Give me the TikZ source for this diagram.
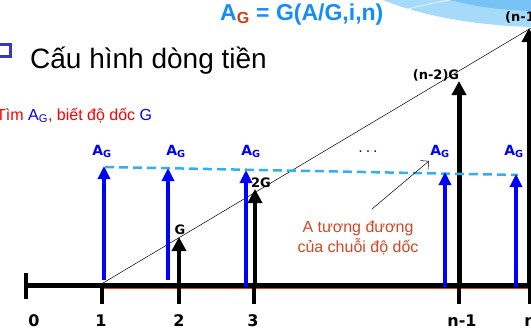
\documentclass[tikz,border=0pt]{standalone}
\usepackage{fontspec}
\setmainfont{Liberation Sans}
\newfontfamily\vfont{DejaVu Sans}
\usetikzlibrary{arrows.meta}
\definecolor{titleblue}{RGB}{20,140,250}
\definecolor{subred}{RGB}{215,60,20}
\definecolor{dashblue}{RGB}{50,175,240}
\definecolor{notered}{RGB}{215,70,35}
\definecolor{swoosh}{RGB}{165,218,250}
\definecolor{swooshdark}{RGB}{120,195,245}
\definecolor{bulletblue}{RGB}{55,55,200}

\begin{document}
\begin{tikzpicture}[x=1pt, y=-1pt,
  blu/.style={draw=blue, line width=4pt, -{Triangle[length=13pt, width=12pt]}, blue},
  blk/.style={draw=black, line width=4.5pt, -{Triangle[length=14pt, width=14pt]}},
  tck/.style={line width=3.5pt},
  agl/.style={font=\vfont\bfseries\fontsize{14}{16}\selectfont, text=blue, anchor=base, inner sep=0pt},
  num/.style={font=\vfont\bfseries\fontsize{16}{18}\selectfont, anchor=base, inner sep=0pt},
  gl/.style={font=\vfont\bfseries\fontsize{13}{15}\selectfont, inner sep=0pt}
]
  \useasboundingbox (0,0) rectangle (531,330);

  % swoosh at top right
  \fill[swoosh] (383,0) .. controls (420,15) and (470,25) .. (531,27) -- (531,0) -- cycle;
  \fill[swooshdark] (450,0) .. controls (480,8) and (505,10) .. (531,11) -- (531,0) -- cycle;
  \draw[white, line width=0.6pt] (392,14) .. controls (410,8) and (430,3) .. (450,0);

  % title and headings
  \node[anchor=base west, inner sep=0pt, text=titleblue, font=\bfseries\fontsize{23}{26}\selectfont] (title) at (220,20)
    {A\textsubscript{\textcolor{subred}{G}} = G(A/G,i,n)};
  \draw[bulletblue, line width=3pt] (-2,44.5) rectangle (10,56.5);
  \node[anchor=base west, inner sep=0pt, font=\fontsize{28}{32}\selectfont] (head) at (30,68) {Cấu hình dòng tiền};
  \node[anchor=base west, inner sep=0pt, text=red, font=\fontsize{16}{18}\selectfont] (task) at (-4,120)
    {Tìm \textcolor{blue}{A\textsubscript{G}}, biết độ dốc \textcolor{blue}{G}};

  % time axis
  \coordinate (o0) at (26,285);
  \coordinate (oe) at (531,285);
  \draw[line width=5pt] (o0) -- (oe);
  \draw[line width=4pt] (26,273) -- (26,299);
  \draw[notered, line width=1.2pt] (103,288.5) -- (531,288.5);
  \foreach \x in {102,179,254,459,530}
    \draw[tck] (\x,287) -- (\x,304);
  \node[num] (l0) at (34,326) {0};
  \node[num] (l1) at (101,326) {1};
  \node[num] (l2) at (179,326) {2};
  \node[num] (l3) at (253,326) {3};
  \node[num] (ln1) at (462,326) {n-1};
  \node[num] (ln) at (530,326) {n};

  % gradient line
  \coordinate (g0) at (103,283);
  \coordinate (g1) at (531,28);
  \draw[line width=0.5pt] (g0) -- (g1);

  % black gradient arrows
  \draw[blk] (179,284) -- (179,237);
  \draw[blk] (255,284) -- (255,189);
  \draw[blk, line width=5pt] (459,286) -- (459,81);
  \draw[blk, line width=5pt] (529,286) -- (529,28);
  \node[gl] (gg) at (180,230) {G};
  \node[gl] (g2) at (261,183) {2G};
  \node[gl] (gn2) at (436,75) {(n-2)G};
  \node[gl, anchor=west] (gn1) at (505,17) {(n-1)G};

  % equivalent uniform series
  \draw[dashblue, line width=2.5pt, dash pattern=on 9pt off 5pt] (105,167) -- (518,175);
  \draw[blu] (104,280) -- (104,166);
  \draw[blu] (168,280) -- (168,168);
  \draw[blu] (246,287) -- (246,170);
  \draw[blu] (445,287) -- (445,172);
  \draw[blu] (516,287) -- (516,174);
  \node[agl] (a1) at (102,155) {A\textsubscript{G}};
  \node[agl] (a2) at (176,155) {A\textsubscript{G}};
  \node[agl] (a3) at (251,155) {A\textsubscript{G}};
  \node[agl] (a4) at (440,155) {A\textsubscript{G}};
  \node[agl] (a5) at (514,155) {A\textsubscript{G}};
  \node[agl, font=\vfont\fontsize{14}{16}\selectfont] (dots) at (368,152) {.\hspace{3pt}.\hspace{3pt}.};

  % note
  \node[text=notered, align=center, font=\fontsize{16}{20}\selectfont] (note) at (358,238)
    {A tương đương\\của chuỗi độ dốc};
  \coordinate (nt) at (372,209);
  \draw[-{Straight Barb[length=6pt]}, line width=0.5pt] (nt) -- (429,161);
\end{tikzpicture}
\end{document}
